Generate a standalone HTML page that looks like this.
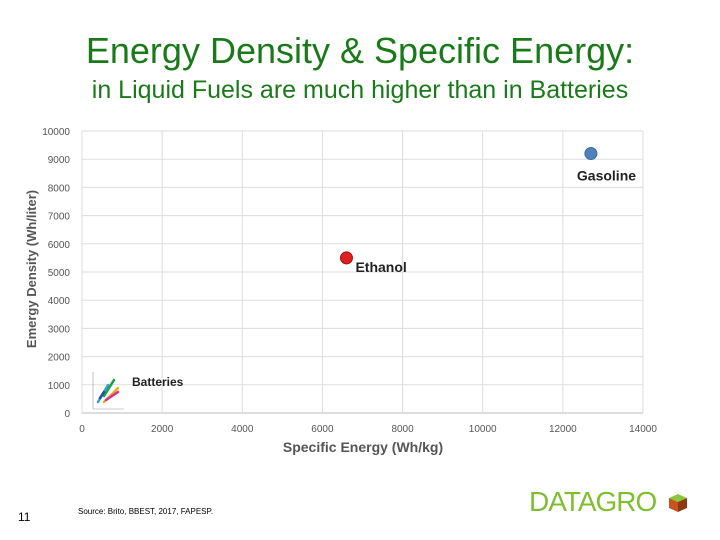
<!DOCTYPE html>
<html><head><meta charset="utf-8"><style>
body{margin:0;width:720px;height:540px;background:#fff;font-family:"Liberation Sans",sans-serif;overflow:hidden;position:relative}
.t{position:absolute;white-space:nowrap}
</style></head><body>
<div class="t" style="left:0;width:720px;text-align:center;top:30px;font-size:36px;color:#1a7a1a">Energy Density &amp; Specific Energy:</div>
<div class="t" style="left:0;width:720px;text-align:center;top:76px;font-size:25px;color:#1a7a1a">in Liquid Fuels are much higher than in Batteries</div>
<svg id="chart" width="720" height="540" style="position:absolute;left:0;top:0" font-family="Liberation Sans, sans-serif"></svg>
<div class="t" style="left:78px;top:507px;font-size:8px">Source: Brito, BBEST, 2017, FAPESP.</div>
<div class="t" style="left:18px;top:510px;font-size:12px">11</div>
<div style="position:absolute;left:529px;top:486px">
<span style="font-size:28px;color:#7fbf2f;letter-spacing:-1px">DATAGRO</span>
<svg width="22" height="22" style="position:absolute;left:138px;top:6px"><polygon points="2,6 11,2 20,6 11,10" fill="#8cc63f"/><polygon points="2,6 11,10 11,20 2,16" fill="#c8531c"/><polygon points="11,10 20,6 20,16 11,20" fill="#8a3a12"/></svg>
</div>
<script>
const xTicks=[0,2000,4000,6000,8000,10000,12000,14000];
const yTicks=[0,1000,2000,3000,4000,5000,6000,7000,8000,9000,10000];
const names=["Gasoline","Ethanol"];
const xVals=[12700,6600];
const yVals=[9200,5500];
const colors=["#4f81bd","#e02020"];
const X0=82,X1=643,Y0=413,Y1=131;
const sx=v=>X0+(v-0)/14000*(X1-X0);
const sy=v=>Y0-(v-0)/10000*(Y0-Y1);
const svg=document.getElementById('chart');const NS='http://www.w3.org/2000/svg';
function mk(t,a,txt){const e=document.createElementNS(NS,t);for(const k in a)e.setAttribute(k,a[k]);if(txt!=null)e.textContent=txt;svg.appendChild(e);return e;}
yTicks.forEach(v=>{const g=mk('line',{x1:X0,x2:X1,y1:sy(v),y2:sy(v),stroke:v===0?'#bbb':'#ddd'});
const l=mk('text',{x:70,y:sy(v)+4,'text-anchor':'end','font-size':10,fill:'#555'},v);});
xTicks.forEach(v=>{const g=mk('line',{x1:sx(v),x2:sx(v),y1:Y1,y2:Y0,stroke:'#ddd'});
const l=mk('text',{x:sx(v),y:432,'text-anchor':'middle','font-size':10,fill:'#555'},v);});
const xt=mk('text',{x:363,y:452,'text-anchor':'middle','font-size':14,'font-weight':'bold',fill:'#555'},'Specific Energy (Wh/kg)');
const yt=mk('text',{x:36,y:269,'text-anchor':'middle','font-size':13,'font-weight':'bold',fill:'#555',transform:'rotate(-90 36 269)'},'Emergy Density (Wh/liter)');
names.forEach((n,i)=>{const c=mk('circle',{cx:sx(xVals[i]),cy:sy(yVals[i]),r:6,fill:colors[i],stroke:i?'#a01010':'#3a6a9a','stroke-width':1});});
const lg=mk('text',{x:sx(xVals[0])-14,y:sy(yVals[0])+27,'font-size':14,'font-weight':'bold',fill:'#222'},'Gasoline');
const le=mk('text',{x:sx(xVals[1])+9,y:sy(yVals[1])+14,'font-size':14,'font-weight':'bold',fill:'#222'},'Ethanol');
const ins=mk('g',{});
[['#3aa0d0',98,402,108,385],['#1aa040',104,396,114,380],['#e0b020',104,402,118,388],['#d03090',106,400,118,392],['#2050b0',100,398,104,392]].forEach(s=>{const l=mk('line',{x1:s[1],y1:s[2],x2:s[3],y2:s[4],stroke:s[0],'stroke-width':2.5,'stroke-linecap':'round'});});
mk('line',{x1:93,y1:372,x2:93,y2:409,stroke:'#999','stroke-width':0.6});
mk('line',{x1:93,y1:409,x2:124,y2:409,stroke:'#999','stroke-width':0.6});
const lb=mk('text',{x:132,y:386,'font-size':12,'font-weight':'bold',fill:'#222'},'Batteries');
</script>
</body></html>
